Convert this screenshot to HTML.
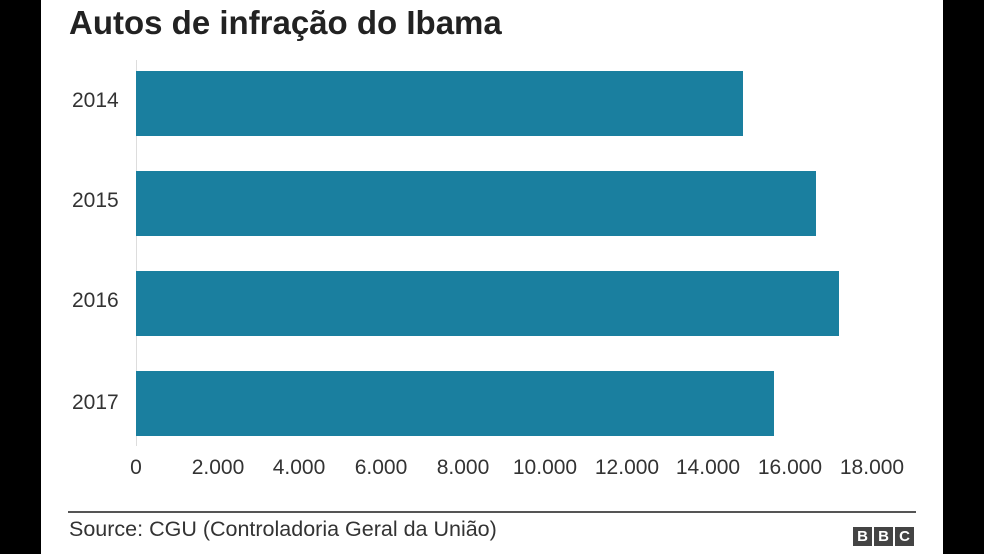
<!DOCTYPE html>
<html><head><style>
body{margin:0;width:984px;height:554px;background:#000;position:relative;overflow:hidden;font-family:"Liberation Sans",Arial,sans-serif}
.w{position:absolute;left:41px;top:0;width:902px;height:554px;background:#fff}
.t{position:absolute;left:69px;top:4px;font-size:33px;font-weight:bold;color:#222}
.bar{position:absolute;left:136px;height:65px;background:#1a7f9f}
.y{position:absolute;left:72px;font-size:21px;color:#333}
.x{position:absolute;top:456px;font-size:21px;color:#333;transform:translateX(-50%)}
.ax{position:absolute;left:136px;top:60px;width:1px;height:386px;background:#ddd}
.sep{position:absolute;left:68px;top:511px;width:848px;height:2px;background:#555}
.src{position:absolute;left:69px;top:517px;font-size:21.5px;color:#333}
.bbc{position:absolute;top:527px;width:19px;height:19px;background:#444;color:#fff;font-weight:bold;font-size:15px;text-align:center;line-height:19px}
</style></head><body>
<div class="w"></div>
<div class="t">Autos de infração do Ibama</div>
<div class="ax"></div>
<div class="bar" style="top:71px;width:607px"></div>
<div class="bar" style="top:171px;width:680px"></div>
<div class="bar" style="top:271px;width:703px"></div>
<div class="bar" style="top:371px;width:638px"></div>
<div class="y" style="top:89px">2014</div>
<div class="y" style="top:189px">2015</div>
<div class="y" style="top:289px">2016</div>
<div class="y" style="top:391px">2017</div>
<div class="x" style="left:136px">0</div>
<div class="x" style="left:218px">2.000</div>
<div class="x" style="left:299px">4.000</div>
<div class="x" style="left:381px">6.000</div>
<div class="x" style="left:463px">8.000</div>
<div class="x" style="left:545px">10.000</div>
<div class="x" style="left:627px">12.000</div>
<div class="x" style="left:708px">14.000</div>
<div class="x" style="left:790px">16.000</div>
<div class="x" style="left:872px">18.000</div>
<div class="sep"></div>
<div class="src">Source: CGU (Controladoria Geral da União)</div>
<div class="bbc" style="left:853px">B</div>
<div class="bbc" style="left:874px">B</div>
<div class="bbc" style="left:895px">C</div>
</body></html>
